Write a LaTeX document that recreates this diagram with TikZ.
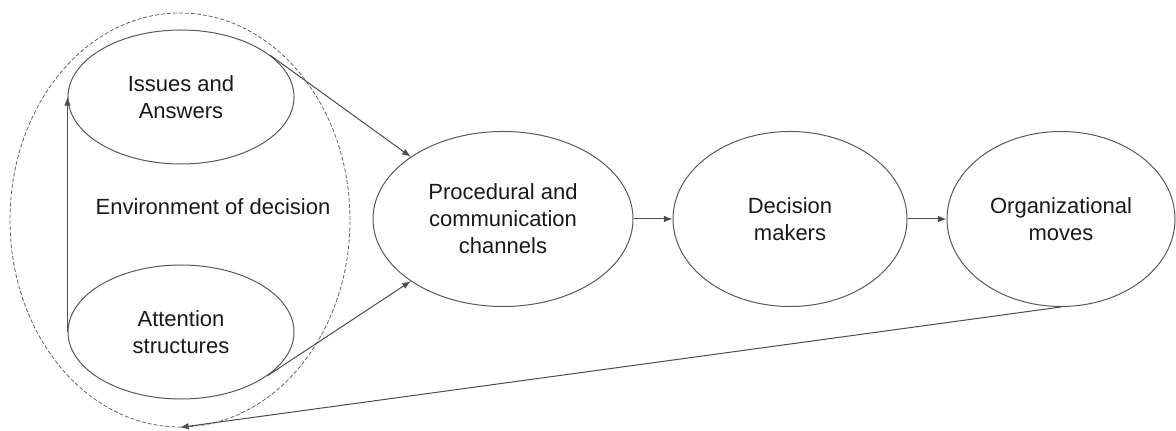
\documentclass[tikz,border=0pt]{standalone}
\usepackage{fontspec}
\setmainfont{Liberation Sans}
\usetikzlibrary{shapes.geometric}
\tikzset{
	bubble/.style={ellipse, draw=black!65, line width=0.5pt, inner sep=0pt, align=center, text=black!90, font=\fontsize{11}{13.5}\selectfont},
	link/.style={-latex, draw=black!70, line width=0.5pt}
}

\begin{document}
\begin{tikzpicture}[x=0.5pt, y=-0.5pt]
		%%%%% START %%%%%
		\useasboundingbox (0, 0) rectangle (1176, 431);
		
		\node[ellipse, draw=black!60, dash pattern=on 2pt off 1pt, line width=0.4pt, minimum width=170pt, minimum height=207pt] (env) at (180, 220) {};
		\node[text=black!90, font=\fontsize{11}{13.5}\selectfont] (envtxt) at (213, 207) {Environment of decision};
		
		\node[bubble, minimum width=113pt, minimum height=67pt] (iss) at (181, 97) {Issues and\\Answers};
		\node[bubble, minimum width=113pt, minimum height=67pt] (att) at (181, 332) {Attention\\structures};
		
		\node[bubble, minimum width=130pt, minimum height=87.5pt] (proc) at (503, 219) {Procedural and\\communication\\channels};
		\node[bubble, minimum width=117pt, minimum height=87.5pt] (dec) at (790, 219) {Decision\\makers};
		\node[bubble, minimum width=114pt, minimum height=87.5pt] (org) at (1061, 219) {Organizational\\moves};
		
		\draw[link] (att.west) -- (iss.west);
		\draw[link] (iss.25) -- (proc.146);
		\draw[link] (att.-27) -- (proc.214);
		\draw[link] (proc.east) -- (dec.west);
		\draw[link] (dec.east) -- (org.west);
		\draw[link] (org.south) -- (env.south);
		
		%%%%% END %%%%%
\end{tikzpicture}
\end{document}
